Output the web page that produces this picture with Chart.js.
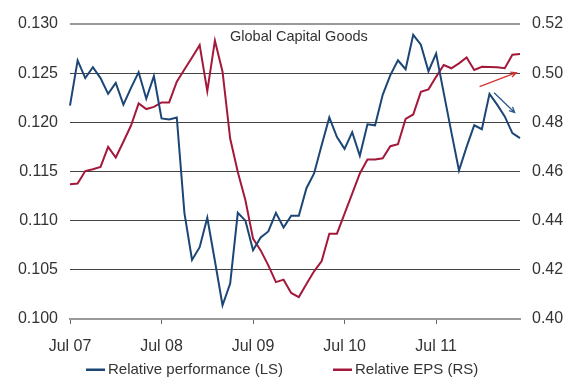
<!DOCTYPE html>
<html>
<head>
<meta charset="utf-8">
<script src="https://cdn.jsdelivr.net/npm/chart.js@4"></script>
<style>
  html, body { margin: 0; padding: 0; background: #fff; }
  #wrap { width: 571px; height: 379px; }
</style>
</head>
<body>
<div id="wrap"><canvas id="chart" width="571" height="379"></canvas></div>
<script>
// Monthly data, Jul 07 - Jun 12
const months = [
    "Jul 07", "Aug 07", "Sep 07", "Oct 07", "Nov 07", "Dec 07",
    "Jan 08", "Feb 08", "Mar 08", "Apr 08", "May 08", "Jun 08",
    "Jul 08", "Aug 08", "Sep 08", "Oct 08", "Nov 08", "Dec 08",
    "Jan 09", "Feb 09", "Mar 09", "Apr 09", "May 09", "Jun 09",
    "Jul 09", "Aug 09", "Sep 09", "Oct 09", "Nov 09", "Dec 09",
    "Jan 10", "Feb 10", "Mar 10", "Apr 10", "May 10", "Jun 10",
    "Jul 10", "Aug 10", "Sep 10", "Oct 10", "Nov 10", "Dec 10",
    "Jan 11", "Feb 11", "Mar 11", "Apr 11", "May 11", "Jun 11",
    "Jul 11", "Aug 11", "Sep 11", "Oct 11", "Nov 11", "Dec 11",
    "Jan 12", "Feb 12", "Mar 12", "Apr 12", "May 12", "Jun 12",
];
const tickLabels = ["Jul 07", "Jul 08", "Jul 09", "Jul 10", "Jul 11"];

// Relative performance (left scale)
const relPerf = [
    0.1217, 0.1263, 0.1245, 0.1256, 0.1245, 0.1229, 0.1240, 0.1218, 0.1235, 0.1251, 0.1224, 0.1247,
    0.1204, 0.1203, 0.1205, 0.1108, 0.1060, 0.1073, 0.1103, 0.1059, 0.1014, 0.1036, 0.1108, 0.1100,
    0.1070, 0.1083, 0.1089, 0.1108, 0.1093, 0.1105, 0.1105, 0.1133, 0.1148, 0.1177, 0.1205, 0.1185,
    0.1173, 0.1190, 0.1166, 0.1198, 0.1197, 0.1228, 0.1248, 0.1263, 0.1254, 0.1289, 0.1279, 0.1252,
    0.1270, 0.1230, 0.1190, 0.1151, 0.1175, 0.1197, 0.1193, 0.1229, 0.1218, 0.1206, 0.1189, 0.1184,
];

// Relative EPS (right scale)
const relEps = [
    0.4548, 0.4551, 0.4602, 0.4609, 0.4619, 0.4700, 0.4657, 0.4721, 0.4787, 0.4877, 0.4854, 0.4863,
    0.4881, 0.4881, 0.4965, 0.5015, 0.5064, 0.5114, 0.4927, 0.5132, 0.5006, 0.4734, 0.4598, 0.4483,
    0.4327, 0.4279, 0.4218, 0.4150, 0.4160, 0.4106, 0.4089, 0.4142, 0.4194, 0.4236, 0.4347, 0.4347,
    0.4429, 0.4510, 0.4592, 0.4649, 0.4649, 0.4654, 0.4703, 0.4711, 0.4814, 0.4832, 0.4924, 0.4934,
    0.4985, 0.5033, 0.5020, 0.5040, 0.5064, 0.5013, 0.5026, 0.5025, 0.5024, 0.5020, 0.5075, 0.5078,
];

// Trend arrows: [from index, from value, to index, to value, axis, colour]
const arrows = [
    [53.7, 0.4945, 58.5, 0.5002, "y1", "#d6332f"],
    [55.6, 0.1230, 58.3, 0.1210, "y", "#2d5a8a"],
];

const BLUE = "#1b4676";
const RED = "#a3193b";
const FONT = "'Liberation Sans', Arial, sans-serif";

// Title text, arrows and legend drawn by hand
const extras = {
    id: "extras",
    afterDatasetsDraw(chart) {
        const ctx = chart.ctx;
        ctx.save();
        ctx.fillStyle = "#333";
        ctx.font = "14.5px " + FONT;
        ctx.textBaseline = "middle";
        ctx.fillText("Global Capital Goods", 230, 37);

        const xs = chart.scales.x;
        arrows.forEach(([i0, v0, i1, v1, axis, col]) => {
            const ys = chart.scales[axis];
            const x0 = xs.getPixelForValue(i0), y0 = ys.getPixelForValue(v0);
            const x1 = xs.getPixelForValue(i1), y1 = ys.getPixelForValue(v1);
            const a = Math.atan2(y1 - y0, x1 - x0);
            const h = 6;
            ctx.strokeStyle = col;
            ctx.lineWidth = 1.3;
            ctx.beginPath();
            ctx.moveTo(x0, y0);
            ctx.lineTo(x1, y1);
            ctx.moveTo(x1 - h * Math.cos(a - 0.45), y1 - h * Math.sin(a - 0.45));
            ctx.lineTo(x1, y1);
            ctx.lineTo(x1 - h * Math.cos(a + 0.45), y1 - h * Math.sin(a + 0.45));
            ctx.stroke();
        });

        // legend
        const legendX = [86, 333];
        const legendY = 370;
        ctx.font = "15px " + FONT;
        chart.data.datasets.forEach((ds, i) => {
            const x = legendX[i];
            ctx.fillStyle = ds.borderColor;
            ctx.fillRect(x, legendY - 1.5, 19, 2.5);
            ctx.fillStyle = "#333";
            ctx.fillText(ds.label, x + 22, legendY);
        });
        ctx.restore();
    },
};

const ctx = document.getElementById("chart").getContext("2d");
new Chart(ctx, {
    type: "line",
    data: {
        labels: months,
        datasets: [
            {
                label: "Relative performance (LS)",
                data: relPerf,
                yAxisID: "y",
                borderColor: BLUE,
                backgroundColor: BLUE,
                borderWidth: 2,
                pointRadius: 0,
                tension: 0,
            },
            {
                label: "Relative EPS (RS)",
                data: relEps,
                yAxisID: "y1",
                borderColor: RED,
                backgroundColor: RED,
                borderWidth: 2,
                pointRadius: 0,
                tension: 0,
            },
        ],
    },
    options: {
        responsive: false,
        animation: false,
        layout: { padding: { top: 24, left: 0, right: 0, bottom: 26 } },
        plugins: {
            tooltip: { enabled: false },
            legend: { display: false },
        },
        scales: {
            x: {
                offset: false,
                border: { display: true, color: "#999", width: 2 },
                grid: {
                    drawOnChartArea: false,
                    tickLength: 5,
                    tickColor: (c) =>
                        tickLabels.includes(months[c.index]) ? "#666" : "rgba(0,0,0,0)",
                },
                ticks: {
                    autoSkip: false,
                    maxRotation: 0,
                    minRotation: 0,
                    padding: 13,
                    color: "#333",
                    font: { family: FONT, size: 16 },
                    callback: function (val) {
                        const lab = this.getLabelForValue(val);
                        return tickLabels.includes(lab) ? lab : "";
                    },
                },
                afterFit: (s) => { s.height = 34; },
            },
            y: {
                position: "left",
                min: 0.1,
                max: 0.13,
                border: { display: false },
                grid: {
                    drawTicks: false,
                    color: (c) => (c.index === 0 || c.index === 6 ? "#999" : "#444"),
                    lineWidth: (c) => (c.index === 0 || c.index === 6 ? 2 : 1),
                },
                ticks: {
                    stepSize: 0.005,
                    padding: 12,
                    color: "#333",
                    font: { family: FONT, size: 16 },
                    callback: (v) => v.toFixed(3),
                },
                afterFit: (s) => { s.width = 70; },
            },
            y1: {
                position: "right",
                min: 0.4,
                max: 0.52,
                border: { display: false },
                grid: { drawOnChartArea: false, drawTicks: false },
                ticks: {
                    stepSize: 0.02,
                    padding: 12,
                    color: "#333",
                    font: { family: FONT, size: 16 },
                    callback: (v) => v.toFixed(2),
                },
                afterFit: (s) => { s.width = 51; },
            },
        },
    },
    plugins: [extras],
});
</script>
</body>
</html>
